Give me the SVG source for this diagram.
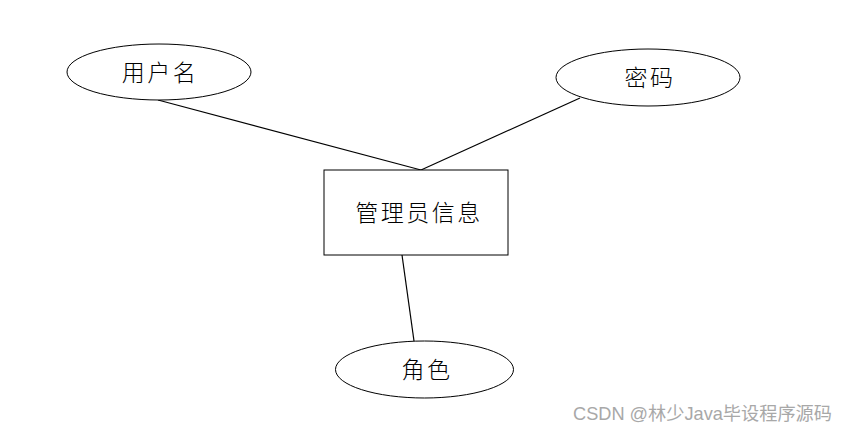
<svg xmlns="http://www.w3.org/2000/svg" width="866" height="434" viewBox="0 0 866 434">
<style>
.shape{fill:#ffffff;stroke:#000000;stroke-width:1}
.lbl{font-family:"Liberation Serif","Noto Sans CJK SC",serif;font-size:23px;font-weight:300;fill:#000000;text-anchor:middle;letter-spacing:2.5px}
.conn{stroke:#000000;stroke-width:1.2;fill:none}
.wm{font-family:"Liberation Sans","Noto Sans CJK SC",sans-serif;font-size:18.2px;fill:#a8a8a8}
</style>
<rect x="0" y="0" width="866" height="434" fill="#ffffff"/>
<g id="connectors">
<line class="conn" x1="158" y1="100" x2="421" y2="170"/>
<line class="conn" x1="421" y1="170" x2="580" y2="98"/>
<line class="conn" x1="402" y1="255" x2="414" y2="341"/>
</g>
<g id="node-username">
<ellipse class="shape" cx="159" cy="72" rx="92" ry="28"/>
<text class="lbl" x="160" y="81">用户名</text>
</g>
<g id="node-password">
<ellipse class="shape" cx="648" cy="77.5" rx="92" ry="28.5"/>
<text class="lbl" x="650" y="86">密码</text>
</g>
<g id="node-admin">
<rect class="shape" x="324" y="170" width="184" height="85"/>
<text class="lbl" x="419" y="221">管理员信息</text>
</g>
<g id="node-role">
<ellipse class="shape" cx="424.5" cy="369.5" rx="89" ry="28.5"/>
<text class="lbl" x="427" y="378">角色</text>
</g>
<text class="wm" x="573" y="420">CSDN @林少Java毕设程序源码</text>
</svg>
